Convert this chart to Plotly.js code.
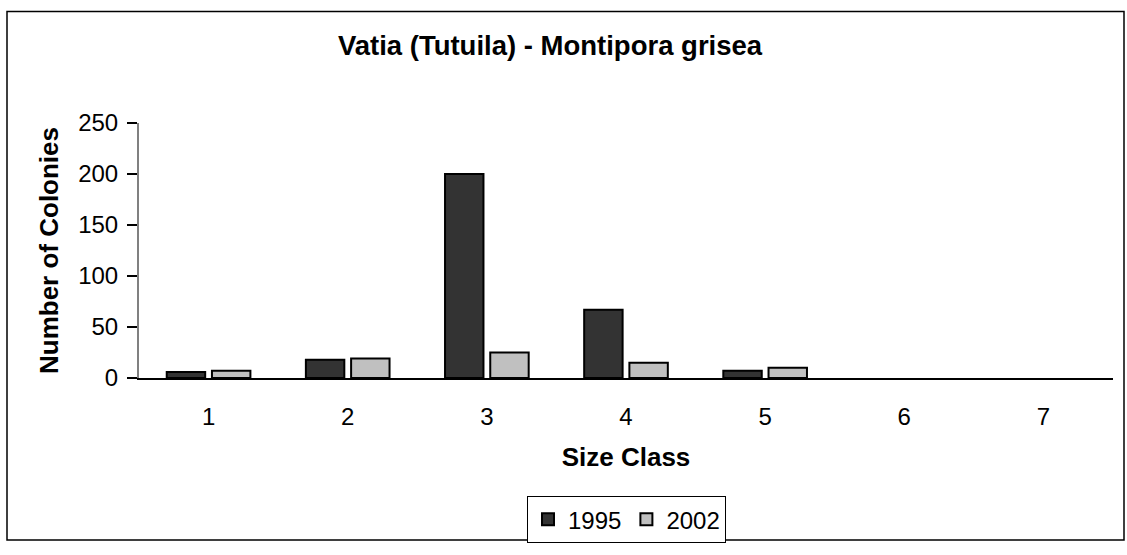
<!DOCTYPE html>
<html>
<head>
<meta charset="utf-8">
<script src="https://cdn.plot.ly/plotly-3.0.1.min.js"></script>
<style>
  html, body { margin: 0; padding: 0; background: #ffffff; }
  #chart { width: 1127px; height: 555px; }
</style>
</head>
<body>
<div id="chart"></div>
<script>
const sizeClasses = ["1", "2", "3", "4", "5", "6", "7"];
const colonies1995 = [6, 18, 200, 67, 7, 0, 0];
const colonies2002 = [7, 19, 25, 15, 10, 0, 0];
const yTicks = [0, 50, 100, 150, 200, 250];

const FONT = "Liberation Sans, Arial, sans-serif";
const outline = vals => vals.map(v => (v === 0 ? 0 : 2));

const traces = [
  {
    type: "bar", name: "1995", x: sizeClasses, y: colonies1995,
    marker: { color: "#333333", line: { color: "#000000", width: outline(colonies1995) } },
    hoverinfo: "x+y+name"
  },
  {
    type: "bar", name: "2002", x: sizeClasses, y: colonies2002,
    marker: { color: "#c0c0c0", line: { color: "#000000", width: outline(colonies2002) } },
    hoverinfo: "x+y+name"
  }
];

const L = 139, R = 14, T = 123, B = 169;
const W = 1127, H = 555;
const pw = W - L - R, ph = H - T - B;
const px = v => (v - L) / pw;
const py = v => (H - B - v) / ph;

const layout = {
  width: W, height: H,
  margin: { l: L, r: R, t: T, b: B, pad: 0 },
  paper_bgcolor: "#ffffff", plot_bgcolor: "#ffffff",
  font: { family: FONT, color: "#000000", size: 24 },
  title: {
    text: "<b>Vatia (Tutuila) - Montipora grisea</b>",
    font: { family: FONT, size: 27.5, color: "#000000" },
    x: 550 / W, xanchor: "center", xref: "container",
    y: 1 - 45 / H, yanchor: "middle", yref: "container"
  },
  barmode: "group",
  bargap: 0.35,
  bargroupgap: 0.15,
  xaxis: {
    type: "category",
    tickfont: { family: FONT, size: 24 },
    showline: true, linecolor: "#000000", linewidth: 1.5,
    ticks: "", showgrid: false, zeroline: false,
    ticklabelstandoff: 16,
    title: { text: "<b>Size Class</b>", font: { family: FONT, size: 26 }, standoff: 19 },
    fixedrange: true
  },
  yaxis: {
    range: [0, 250], tickvals: yTicks,
    tickfont: { family: FONT, size: 24 },
    showline: true, linecolor: "#808080", linewidth: 2,
    ticks: "outside", ticklen: 10, tickcolor: "#000000", tickwidth: 1.5,
    ticklabelstandoff: 4,
    showgrid: false, zeroline: false,
    title: { text: "<b>Number of Colonies</b>", font: { family: FONT, size: 26 }, standoff: 12 },
    fixedrange: true
  },
  showlegend: true,
  legend: {
    orientation: "h",
    x: px(527), xanchor: "left", xref: "paper",
    y: py(532), yanchor: "middle", yref: "paper",
    bordercolor: "#000000", borderwidth: 1, bgcolor: "#ffffff",
    font: { family: FONT, size: 24 },
    itemwidth: 30, tracegroupgap: 0
  },
  shapes: [
    {
      type: "rect", xref: "paper", yref: "paper",
      x0: px(7), x1: px(1124), y0: py(553), y1: py(8),
      line: { color: "#000000", width: 1.5 }, fillcolor: "rgba(0,0,0,0)", layer: "below"
    }
  ]
};

Plotly.newPlot("chart", traces, layout, { displayModeBar: false });
</script>
</body>
</html>
